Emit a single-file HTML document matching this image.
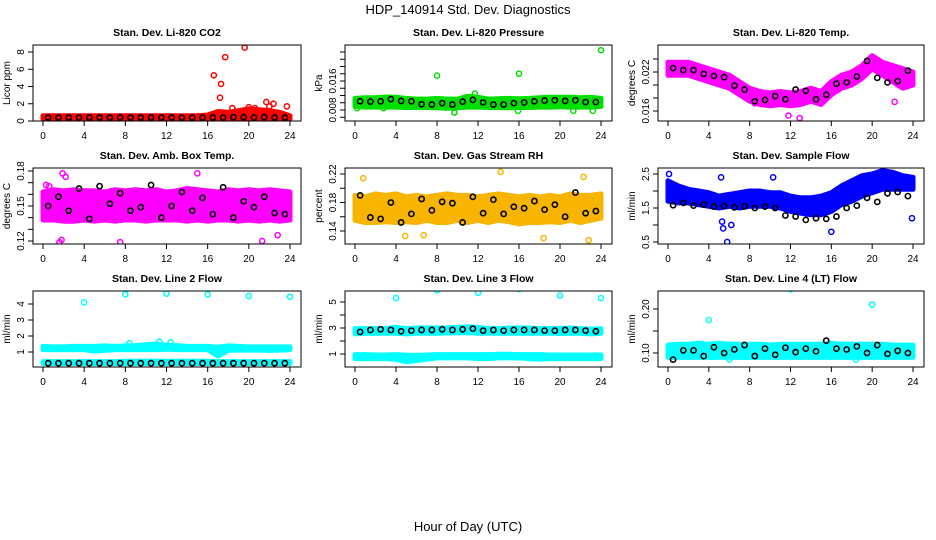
<!DOCTYPE html>
<html><head><meta charset="utf-8"><style>
html,body{margin:0;padding:0;background:#fff;}
svg{display:block;font-family:"Liberation Sans",Arial,sans-serif;}
</style></head><body>
<svg id="c" width="936" height="540" viewBox="0 0 936 540" xmlns="http://www.w3.org/2000/svg">
<rect width="936" height="540" fill="#fff"/>
<text x="468" y="14" text-anchor="middle" font-size="13">HDP_140914  Std. Dev. Diagnostics</text>
<text x="468" y="531" text-anchor="middle" font-size="13">Hour of Day (UTC)</text>
</svg>
<script>
const bandHours=[0,1,2,3,4,5,6,7,8,9,10,11,12,13,14,15,16,17,18,19,20,21,22,23,24];
const blackHours=[0.5,1.5,2.5,3.5,4.5,5.5,6.5,7.5,8.5,9.5,10.5,11.5,12.5,13.5,14.5,15.5,16.5,17.5,18.5,19.5,20.5,21.5,22.5,23.5];
const xTicks=[0,4,8,12,16,20,24];

const co2Lo=[0.2,0.2,0.2,0.2,0.2,0.2,0.2,0.2,0.2,0.2,0.2,0.2,0.2,0.2,0.2,0.2,0.2,0.2,0.2,0.2,0.2,0.2,0.2,0.2,0.2];
const co2Hi=[0.6,0.6,0.6,0.6,0.6,0.6,0.6,0.6,0.6,0.6,0.6,0.6,0.6,0.6,0.6,0.6,0.7,1.1,1.0,1.2,1.4,1.3,1.2,1.0,0.6];
const co2Black=[0.4,0.4,0.4,0.4,0.4,0.4,0.4,0.4,0.4,0.4,0.4,0.4,0.4,0.4,0.4,0.4,0.4,0.4,0.45,0.45,0.4,0.45,0.4,0.4];
const co2OutX=[16.6,17.3,17.2,17.7,19.6,21.7,22.4,23.7,18.4,20,20.6,22];
const co2OutY=[5.3,4.3,2.7,7.4,8.5,2.2,2.0,1.7,1.5,1.6,1.5,1.7];

const presLo=[0.0090,0.0088,0.0088,0.0088,0.0088,0.0087,0.0087,0.0087,0.0086,0.0085,0.0086,0.0088,0.0088,0.0087,0.0087,0.0086,0.0087,0.0087,0.0088,0.0088,0.0089,0.0088,0.0088,0.0088,0.0090];
const presHi=[0.0112,0.0114,0.0114,0.0116,0.0115,0.0112,0.0110,0.0110,0.0112,0.0110,0.0110,0.0118,0.0115,0.0110,0.0111,0.0112,0.0111,0.0112,0.0114,0.0115,0.0115,0.0115,0.0114,0.0115,0.0112];
const presBlack=[0.0104,0.0103,0.0104,0.0110,0.0105,0.0104,0.0096,0.0095,0.0099,0.0095,0.0103,0.0108,0.0101,0.0095,0.0095,0.0099,0.0101,0.0104,0.0106,0.0107,0.0105,0.0107,0.0102,0.0102];
const presOutX=[8,16,24,11.7,9.7,0.2,2.8,21.3,23.2,15.9];
const presOutY=[0.0175,0.0180,0.0245,0.0125,0.0073,0.0085,0.0085,0.0078,0.0078,0.0078];

const tempLo=[0.0215,0.0215,0.0215,0.0210,0.0205,0.0200,0.0195,0.0185,0.0175,0.0170,0.0168,0.0170,0.0168,0.0170,0.0175,0.0170,0.0185,0.0195,0.0200,0.0210,0.0225,0.0215,0.0205,0.0195,0.0200];
const tempHi=[0.0235,0.0235,0.0235,0.0230,0.0225,0.0220,0.0215,0.0205,0.0195,0.0190,0.0188,0.0190,0.0188,0.0190,0.0195,0.0190,0.0205,0.0215,0.0220,0.0230,0.0245,0.0235,0.0230,0.0225,0.0220];
const tempBlack=[0.0226,0.0223,0.0223,0.0217,0.0214,0.0212,0.0199,0.0193,0.0175,0.0177,0.0183,0.0178,0.0193,0.0191,0.0178,0.0185,0.0202,0.0204,0.0213,0.0237,0.0211,0.0204,0.0206,0.0222];
const tempOutX=[12.9,11.8,22.2,8.5,13.9];
const tempOutY=[0.0149,0.0153,0.0174,0.0172,0.0177];

const ambLo=[0.138,0.138,0.137,0.137,0.138,0.137,0.138,0.137,0.138,0.138,0.137,0.138,0.138,0.138,0.137,0.138,0.137,0.138,0.138,0.137,0.138,0.137,0.138,0.137,0.138];
const ambHi=[0.162,0.164,0.163,0.164,0.163,0.163,0.162,0.164,0.163,0.164,0.163,0.164,0.162,0.163,0.165,0.164,0.163,0.162,0.164,0.163,0.164,0.163,0.164,0.163,0.162];
const ambBlack=[0.150,0.158,0.146,0.165,0.139,0.167,0.152,0.161,0.146,0.149,0.168,0.140,0.150,0.162,0.146,0.157,0.143,0.166,0.140,0.154,0.149,0.158,0.144,0.143];
const ambOutX=[1.6,1.8,7.5,21.3,2.2,15,1.9,22.8,0.6,0.3];
const ambOutY=[0.119,0.121,0.119,0.120,0.175,0.178,0.178,0.125,0.167,0.168];

const rhLo=[0.155,0.152,0.152,0.153,0.152,0.153,0.152,0.155,0.152,0.152,0.155,0.152,0.155,0.152,0.155,0.153,0.150,0.152,0.152,0.153,0.152,0.155,0.152,0.155,0.158];
const rhHi=[0.190,0.188,0.192,0.190,0.192,0.188,0.190,0.188,0.190,0.192,0.190,0.190,0.188,0.190,0.192,0.190,0.188,0.190,0.188,0.190,0.188,0.192,0.190,0.190,0.192];
const rhBlack=[0.190,0.159,0.157,0.180,0.152,0.164,0.185,0.169,0.181,0.179,0.152,0.188,0.165,0.184,0.164,0.174,0.172,0.182,0.170,0.177,0.160,0.194,0.165,0.168];
const rhOutX=[0.8,14.2,22.8,22.3,4.9,6.7,18.4];
const rhOutY=[0.214,0.223,0.127,0.216,0.133,0.134,0.130];

const flowLo=[1.70,1.65,1.65,1.60,1.55,1.50,1.55,1.50,1.55,1.55,1.55,1.50,1.40,1.35,1.30,1.30,1.40,1.60,1.70,1.85,1.95,2.05,2.05,2.05,2.05];
const flowHi=[2.30,2.15,2.05,2.00,1.95,1.85,1.90,1.95,2.00,2.00,1.95,1.95,1.85,1.80,1.80,1.85,1.95,2.15,2.30,2.45,2.50,2.60,2.55,2.45,2.40];
const flowBlack=[1.58,1.65,1.57,1.60,1.54,1.56,1.52,1.55,1.50,1.54,1.50,1.28,1.25,1.15,1.20,1.18,1.25,1.50,1.57,1.80,1.68,1.93,1.97,1.85];
const flowOutX=[5.8,5.4,5.3,6.2,10.3,5.2,16,23.9,0.1];
const flowOutY=[0.5,0.9,1.1,1.0,2.4,2.4,0.8,1.2,2.5];

const l2Lo=[1.15,1.15,1.15,1.15,1.15,1.05,1.10,1.15,1.15,1.15,1.15,1.15,1.18,1.15,1.15,1.15,1.15,0.75,1.10,1.12,1.12,1.12,1.10,1.12,1.15];
const l2Hi=[1.35,1.32,1.32,1.35,1.35,1.35,1.38,1.35,1.38,1.40,1.45,1.50,1.42,1.40,1.35,1.35,1.35,1.30,1.38,1.35,1.32,1.32,1.32,1.32,1.32];
const l2LowLo=[0.28,0.28,0.28,0.28,0.28,0.28,0.28,0.28,0.28,0.28,0.28,0.28,0.28,0.28,0.28,0.28,0.28,0.28,0.28,0.28,0.28,0.28,0.28,0.28,0.28];
const l2LowHi=[0.40,0.40,0.40,0.40,0.40,0.40,0.40,0.40,0.42,0.42,0.42,0.42,0.42,0.42,0.42,0.42,0.42,0.40,0.40,0.40,0.40,0.40,0.40,0.40,0.40];
const l2Black=[0.3,0.3,0.3,0.3,0.3,0.3,0.3,0.3,0.3,0.3,0.3,0.3,0.3,0.3,0.3,0.3,0.3,0.3,0.3,0.3,0.3,0.3,0.3,0.3];
const l2OutX=[4,8,12,16,20,24,8.4,11.3,12.4];
const l2OutY=[4.1,4.6,4.65,4.6,4.5,4.45,1.55,1.65,1.6];

const l3Lo=[2.55,2.60,2.60,2.60,2.60,2.55,2.60,2.60,2.60,2.62,2.62,2.65,2.60,2.60,2.60,2.60,2.60,2.60,2.60,2.60,2.58,2.60,2.60,2.55,2.60];
const l3Hi=[2.95,2.95,2.95,2.95,3.05,2.95,3.00,3.00,3.00,3.00,3.05,3.10,3.05,2.95,2.95,3.00,3.00,3.00,2.95,2.95,2.95,3.00,2.95,2.90,2.95];
const l3LowLo=[0.65,0.65,0.65,0.65,0.60,0.40,0.50,0.60,0.70,0.70,0.70,0.70,0.65,0.65,0.70,0.70,0.70,0.65,0.60,0.65,0.65,0.65,0.65,0.65,0.65];
const l3LowHi=[0.95,0.95,0.92,0.92,0.95,0.90,0.90,0.92,0.95,0.95,0.95,0.95,0.95,0.95,0.98,0.98,0.95,0.95,0.95,0.92,0.92,0.92,0.92,0.92,0.92];
const l3Black=[2.7,2.85,2.9,2.85,2.75,2.8,2.85,2.85,2.9,2.85,2.9,2.95,2.8,2.85,2.8,2.85,2.85,2.85,2.8,2.8,2.85,2.85,2.8,2.75];
const l3OutX=[4,8,12,16,20,24];
const l3OutY=[5.3,5.9,5.7,6.0,5.5,5.3];

const l4Lo=[0.090,0.090,0.090,0.090,0.090,0.090,0.090,0.090,0.090,0.090,0.090,0.090,0.090,0.090,0.090,0.090,0.090,0.090,0.090,0.090,0.090,0.090,0.090,0.090,0.090];
const l4Hi=[0.118,0.120,0.120,0.122,0.120,0.122,0.120,0.120,0.120,0.120,0.118,0.120,0.120,0.120,0.120,0.120,0.122,0.120,0.120,0.120,0.120,0.120,0.118,0.118,0.118];
const l4Black=[0.085,0.106,0.106,0.093,0.113,0.100,0.108,0.118,0.093,0.110,0.096,0.112,0.102,0.110,0.104,0.128,0.110,0.108,0.115,0.100,0.118,0.098,0.105,0.100];
const l4OutX=[4,12,20,6,18.4];
const l4OutY=[0.175,0.245,0.210,0.085,0.085];

const svg=document.getElementById('c');
const NS='http://www.w3.org/2000/svg';
function mk(tag,attrs,parent){const e=document.createElementNS(NS,tag);for(const k in attrs)e.setAttribute(k,attrs[k]);(parent||svg).appendChild(e);return e;}

function panel(p){
  const g=mk('g',{});
  
  
  const x=h=>p.x0+10+h*(p.x1-p.x0-21)/24;
  const y=v=>p.yA+(v-p.vA)*(p.yB-p.yA)/(p.vB-p.vA);
  const clip='clip-'+p.name;
  const cp=mk('clipPath',{id:clip},g);
  mk('rect',{x:p.x0,y:p.y0,width:p.x1-p.x0,height:p.y1-p.y0},cp);
  const plot=mk('g',{'clip-path':'url(#'+clip+')'},g);
  p.bands.forEach((b,bi)=>{
    let d='';
    bandHours.forEach((h,i)=>{d+=(i?'L':'M')+x(h).toFixed(1)+','+y(b.hi[i]).toFixed(1);});
    for(let i=bandHours.length-1;i>=0;i--)d+='L'+x(bandHours[i]).toFixed(1)+','+y(b.lo[i]).toFixed(1);
    const band=mk('path',{d:d+'Z',fill:p.color,stroke:p.color,'stroke-width':5,'stroke-linejoin':'round'},plot);
    
    
  });
  p.outX.forEach((h,i)=>{
    const c=mk('circle',{cx:x(h),cy:y(p.outY[i]),r:2.6,fill:'none',stroke:p.color,'stroke-width':1.5},plot);
    
    
  });
  blackHours.forEach((h,i)=>{
    const c=mk('circle',{cx:x(h),cy:y(p.black[i]),r:2.6,fill:'none',stroke:'#000','stroke-width':1.6},plot);
    
    
  });
  const box=mk('rect',{x:p.x0,y:p.y0,width:p.x1-p.x0,height:p.y1-p.y0,fill:'none',stroke:'#000','stroke-width':1},g);
  
  
  // x axis
  xTicks.forEach(t=>{
    mk('line',{x1:x(t),x2:x(t),y1:p.y1,y2:p.y1+5,stroke:'#000'},g);
    const l=mk('text',{x:x(t),y:p.y1+18,'font-size':10,'text-anchor':'middle'},g);
    l.textContent=t;
    
    
  });
  // y axis
  p.yTicks.forEach(t=>{
    const yy=y(t);
    if(yy<p.y0-1||yy>p.y1+1)return;
    mk('line',{x1:p.x0-5,x2:p.x0,y1:yy,y2:yy,stroke:'#000'},g);
  });
  p.yLabels.forEach(t=>{
    const yy=y(t);
    const l=mk('text',{x:p.x0-9,y:yy,'font-size':10,'text-anchor':'middle',transform:'rotate(-90 '+(p.x0-9)+' '+yy+')'},g);
    l.textContent=p.fmt(t);
    
    
  });
  const yl=mk('text',{x:p.x0-23,y:(p.y0+p.y1)/2,'font-size':10,'text-anchor':'middle',transform:'rotate(-90 '+(p.x0-23)+' '+((p.y0+p.y1)/2)+')'},g);
  yl.textContent=p.ylab;
  
  
  const tt=mk('text',{x:(p.x0+p.x1)/2,y:p.y0-9,'font-size':10.5,'font-weight':'bold','text-anchor':'middle'},g);
  tt.textContent=p.title;
  
  
}
const C1=[33,301],C2=[345,612],C3=[658,924];
const R1=[45,121],R2=[168,244],R3=[291,367];
const f0=v=>String(v), f2=v=>v.toFixed(2), f3=v=>v.toFixed(3);
panel({name:'co2',title:'Stan. Dev. Li-820 CO2',ylab:'Licor ppm',color:'#ff0000',x0:C1[0],x1:C1[1],y0:R1[0],y1:R1[1],yA:121,vA:0,yB:52,vB:8,
  bands:[{lo:co2Lo,hi:co2Hi}],black:co2Black,outX:co2OutX,outY:co2OutY,yTicks:[0,2,4,6,8],yLabels:[0,2,4,6,8],fmt:f0});
panel({name:'pressure',title:'Stan. Dev. Li-820 Pressure',ylab:'kPa',color:'#00e000',x0:C2[0],x1:C2[1],y0:R1[0],y1:R1[1],yA:110,vA:0.008,yB:81,vB:0.016,
  bands:[{lo:presLo,hi:presHi}],black:presBlack,outX:presOutX,outY:presOutY,yTicks:[0.006,0.008,0.010,0.012,0.014,0.016,0.018,0.020,0.022,0.024],yLabels:[0.008,0.016],fmt:f3});
panel({name:'temp',title:'Stan. Dev. Li-820 Temp.',ylab:'degrees C',color:'#ff00ff',x0:C3[0],x1:C3[1],y0:R1[0],y1:R1[1],yA:111,vA:0.016,yB:72,vB:0.022,
  bands:[{lo:tempLo,hi:tempHi}],black:tempBlack,outX:tempOutX,outY:tempOutY,yTicks:[0.016,0.018,0.020,0.022,0.024],yLabels:[0.016,0.022],fmt:f3});
panel({name:'amb-box',title:'Stan. Dev. Amb. Box Temp.',ylab:'degrees C',color:'#ff00ff',x0:C1[0],x1:C1[1],y0:R2[0],y1:R2[1],yA:241,vA:0.12,yB:171,vB:0.18,
  bands:[{lo:ambLo,hi:ambHi}],black:ambBlack,outX:ambOutX,outY:ambOutY,yTicks:[0.12,0.13,0.14,0.15,0.16,0.17,0.18],yLabels:[0.12,0.15,0.18],fmt:f2});
panel({name:'rh',title:'Stan. Dev. Gas Stream RH',ylab:'percent',color:'#f7b500',x0:C2[0],x1:C2[1],y0:R2[0],y1:R2[1],yA:231,vA:0.14,yB:174,vB:0.22,
  bands:[{lo:rhLo,hi:rhHi}],black:rhBlack,outX:rhOutX,outY:rhOutY,yTicks:[0.14,0.16,0.18,0.20,0.22],yLabels:[0.14,0.18,0.22],fmt:f2});
panel({name:'sample-flow',title:'Stan. Dev. Sample Flow',ylab:'ml/min',color:'#0000ff',x0:C3[0],x1:C3[1],y0:R2[0],y1:R2[1],yA:242,vA:0.5,yB:174,vB:2.5,
  bands:[{lo:flowLo,hi:flowHi}],black:flowBlack,outX:flowOutX,outY:flowOutY,yTicks:[0.5,1,1.5,2,2.5],yLabels:[0.5,1.5,2.5],fmt:f0});
panel({name:'line2',title:'Stan. Dev. Line 2 Flow',ylab:'ml/min',color:'#00ffff',x0:C1[0],x1:C1[1],y0:R3[0],y1:R3[1],yA:352,vA:1,yB:304,vB:4,
  bands:[{lo:l2Lo,hi:l2Hi},{lo:l2LowLo,hi:l2LowHi}],black:l2Black,outX:l2OutX,outY:l2OutY,yTicks:[1,2,3,4],yLabels:[1,2,3,4],fmt:f0});
panel({name:'line3',title:'Stan. Dev. Line 3 Flow',ylab:'ml/min',color:'#00ffff',x0:C2[0],x1:C2[1],y0:R3[0],y1:R3[1],yA:354,vA:1,yB:302,vB:5,
  bands:[{lo:l3Lo,hi:l3Hi},{lo:l3LowLo,hi:l3LowHi}],black:l3Black,outX:l3OutX,outY:l3OutY,yTicks:[1,2,3,4,5],yLabels:[1,3,5],fmt:f0});
panel({name:'line4',title:'Stan. Dev. Line 4 (LT) Flow',ylab:'ml/min',color:'#00ffff',x0:C3[0],x1:C3[1],y0:R3[0],y1:R3[1],yA:353,vA:0.10,yB:309,vB:0.20,
  bands:[{lo:l4Lo,hi:l4Hi}],black:l4Black,outX:l4OutX,outY:l4OutY,yTicks:[0.10,0.15,0.20],yLabels:[0.10,0.20],fmt:f2});
</script>
</body></html>
